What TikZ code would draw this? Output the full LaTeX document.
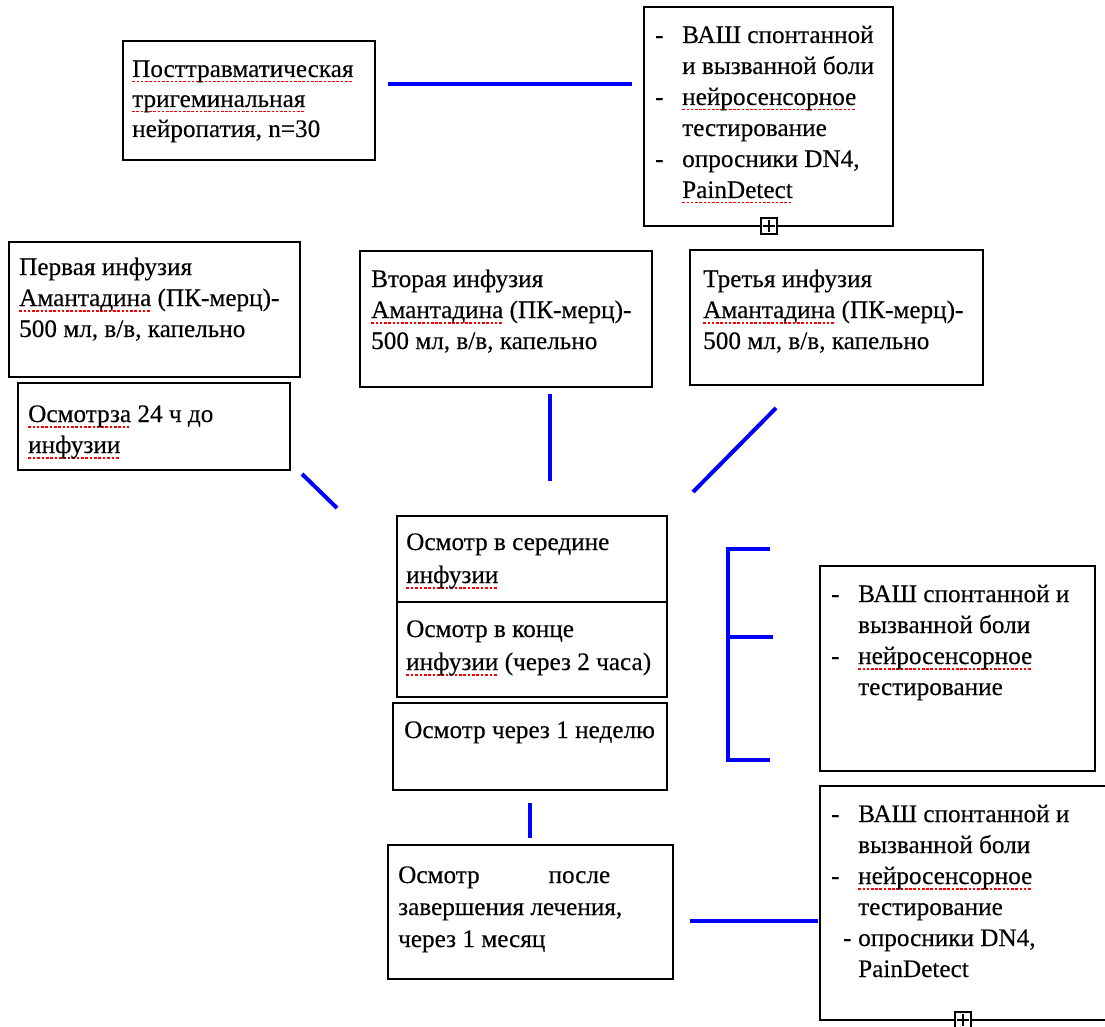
\documentclass[tikz,border=0pt]{standalone}
\usepackage{fontspec}
\setmainfont[FakeBold=0.25]{Liberation Serif}
\newsavebox\spkbox
\newcommand\spk[1]{\sbox\spkbox{#1}\rlap{\color{red}\raisebox{-5.5pt}[0pt][0pt]{\hbox to \wd\spkbox{\xleaders\hbox{\rule{2.6pt}{1.8pt}\kern1.6pt}\hfil}}}\usebox\spkbox}
\newcommand\Lines[1]{\begin{tabular}[t]{@{}l@{}}#1\end{tabular}}
\newcommand\dsh{\makebox[27pt][l]{-}}
\newcommand\ind{\hspace*{27pt}}
\begin{document}
\begin{tikzpicture}[x=1pt,y=-1pt,
 box/.style={draw=black, line width=1.5pt, anchor=north west, inner sep=0, outer sep=0},
 txt/.style={anchor=base west, inner sep=0, font=\fontsize{25.2}{31}\selectfont},
 conn/.style={draw=blue, line width=4pt},
 plusbox/.style={draw=black, line width=1.2pt, fill=white, minimum size=16pt, inner sep=0}]
\useasboundingbox[fill=white] (0,0) rectangle (1105,1027);

% boxes
\node[box, minimum width=252pt, minimum height=119pt] (post) at (123,41) {};
\node[box, minimum width=249pt, minimum height=219pt] (meth1) at (644,7) {};
\node[box, minimum width=291pt, minimum height=135pt] (inf1) at (9,242) {};
\node[box, minimum width=272pt, minimum height=87pt] (pre) at (18,383) {};
\node[box, minimum width=292pt, minimum height=136pt] (inf2) at (360,251) {};
\node[box, minimum width=293pt, minimum height=135pt] (inf3) at (690,250) {};
\node[box, minimum width=270pt, minimum height=86pt] (mid) at (397,516) {};
\node[box, minimum width=270pt, minimum height=95pt] (end) at (397,602) {};
\node[box, minimum width=274pt, minimum height=87pt] (week) at (393,703) {};
\node[box, minimum width=275pt, minimum height=205pt] (meth2) at (820,566) {};
\node[box, minimum width=300pt, minimum height=234pt] (meth3) at (820,786) {};
\node[box, minimum width=285pt, minimum height=134pt] (month) at (388,845) {};

% texts
\node[txt, font=\fontsize{25.2}{30}\selectfont] (tpost) at (132,77) {\Lines{\spk{Посттравматическая}\\ \spk{тригеминальная}\\ нейропатия, n=30}};
\node[txt] (tmeth1) at (655,43) {\Lines{\dsh ВАШ спонтанной\\ \ind и вызванной боли\\ \dsh\spk{нейросенсорное}\\ \ind тестирование\\ \dsh опросники DN4,\\ \ind\spk{PainDetect}}};
\node[txt] (tinf1) at (19,275) {\Lines{Первая инфузия\\ \spk{Амантадина} (ПК-мерц)-\\ 500 мл, в/в, капельно}};
\node[txt] (tpre) at (28,422) {\Lines{\spk{Осмотрза} 24 ч до\\ \spk{инфузии}}};
\node[txt] (tinf2) at (371,287) {\Lines{Вторая инфузия\\ \spk{Амантадина} (ПК-мерц)-\\ 500 мл, в/в, капельно}};
\node[txt] (tinf3) at (703,287) {\Lines{Третья инфузия\\ \spk{Амантадина} (ПК-мерц)-\\ 500 мл, в/в, капельно}};
\node[txt, font=\fontsize{25.2}{33}\selectfont] (tmid) at (406,550) {\Lines{Осмотр в середине\\ \spk{инфузии}}};
\node[txt, font=\fontsize{25.2}{33}\selectfont] (tend) at (406,637) {\Lines{Осмотр в конце\\ \spk{инфузии} (через 2 часа)}};
\node[txt] (tweek) at (404,738) {Осмотр через 1 неделю};
\node[txt] (tmeth2) at (831,602) {\Lines{\dsh ВАШ спонтанной и\\ \ind вызванной боли\\ \dsh\spk{нейросенсорное}\\ \ind тестирование}};
\node[txt] (tmeth3) at (831,822) {\Lines{\dsh ВАШ спонтанной и\\ \ind вызванной боли\\ \dsh\spk{нейросенсорное}\\ \ind тестирование\\ \hspace*{12pt}\makebox[15pt][l]{-}опросники DN4,\\ \ind PainDetect}};
\node[txt, font=\fontsize{25.2}{32}\selectfont] (tmonth) at (398,883) {\Lines{\makebox[212pt]{Осмотр\hfill после}\\ завершения лечения,\\ через 1 месяц}};

% plus markers
\node[plusbox] (p1) at (769,226) {};
\draw[line width=1.2pt] ([yshift=-3pt]p1.north) -- ([yshift=3pt]p1.south) ([xshift=3pt]p1.west) -- ([xshift=-3pt]p1.east);
\node[plusbox] (p2) at (963,1020) {};
\draw[line width=1.2pt] ([yshift=-3pt]p2.north) -- ([yshift=3pt]p2.south) ([xshift=3pt]p2.west) -- ([xshift=-3pt]p2.east);

% connectors
\coordinate (a1) at (388,84); \coordinate (a2) at (632,84);
\draw[conn] (a1) -- (a2);
\coordinate (b1) at (302,474); \coordinate (b2) at (337,508);
\draw[conn] (b1) -- (b2);
\coordinate (c1) at (550,394); \coordinate (c2) at (550,481);
\draw[conn] (c1) -- (c2);
\coordinate (d1) at (776,408); \coordinate (d2) at (693,492);
\draw[conn] (d1) -- (d2);
\coordinate (e1) at (770,549); \coordinate (e2) at (728,549);
\coordinate (e3) at (728,760); \coordinate (e4) at (770,760);
\coordinate (e5) at (728,637); \coordinate (e6) at (773,637);
\draw[conn] (e1) -- (e2) -- (e3) -- (e4);
\draw[conn] (e5) -- (e6);
\coordinate (f1) at (530,803); \coordinate (f2) at (530,838);
\draw[conn] (f1) -- (f2);
\coordinate (g1) at (690,921); \coordinate (g2) at (818,921);
\draw[conn] (g1) -- (g2);
\end{tikzpicture}
\end{document}
